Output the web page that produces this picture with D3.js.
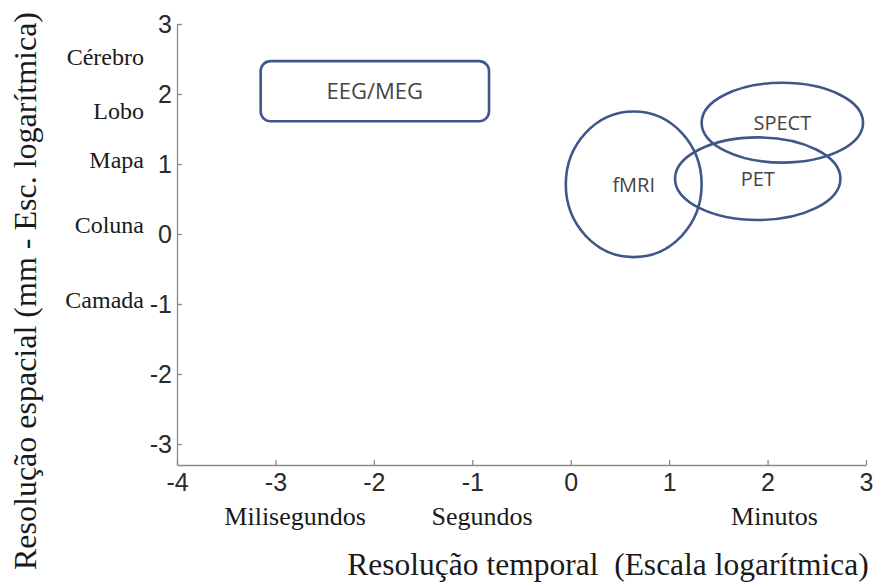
<!DOCTYPE html>
<html>
<head>
<meta charset="utf-8">
<script src="https://cdn.jsdelivr.net/npm/d3@7/dist/d3.min.js"></script>
<style>
  html, body { margin: 0; padding: 0; background: #fff; }
</style>
</head>
<body>
<div id="chart"></div>
<script>
const width = 879;
const height = 582;

// axis ticks (log10 units)
const xTicks = [-4, -3, -2, -1, 0, 1, 2, 3];
const yTicks = [-3, -2, -1, 0, 1, 2, 3];

// verbal scale labels
const timeLabels = ["Milisegundos", "Segundos", "Minutos"];
const timePos = [-2.8, -0.9, 2.07];
const spaceLabels = ["Cérebro", "Lobo", "Mapa", "Coluna", "Camada"];
const spacePos = [2.54, 1.77, 1.06, 0.13, -0.94];

// EEG/MEG box: temporal range and spatial range
const boxName = "EEG/MEG";
const boxX = [-3.15, -0.83];
const boxY = [1.61, 2.47];

// ellipse techniques
const ellipseNames = ["fMRI", "SPECT", "PET"];
const ellipseCx = [0.64, 2.15, 1.90];
const ellipseCy = [0.71, 1.59, 0.79];
const ellipseRx = [0.69, 0.82, 0.84];
const ellipseRy = [1.04, 0.57, 0.59];

const shapeColor = "#3f5889";

const svg = d3.select("#chart").append("svg")
  .attr("width", width)
  .attr("height", height)
  .style("display", "block");

svg.append("rect").attr("width", width).attr("height", height).attr("fill", "#fff");

const x = d3.scaleLinear().domain([-4, 3]).range([177, 866]);
const y = d3.scaleLinear().domain([-3.3, 3]).range([465, 24]);

function styleAxis(g) {
  g.selectAll("path, line").attr("stroke", "#8a8a8a").attr("stroke-width", 1.3);
  g.selectAll("text")
    .attr("fill", "#2a2a2a")
    .style("font-family", "'Liberation Sans', Arial, sans-serif")
    .style("font-size", "25px")
    .text(function () { return d3.select(this).text().replace("−", "-"); });
}

// axes
svg.append("g")
  .attr("transform", `translate(0,${y(-3.3)})`)
  .call(d3.axisBottom(x).tickValues(xTicks).tickSize(-5).tickSizeOuter(0).tickPadding(8).tickFormat(d3.format("d")))
  .call(styleAxis);

svg.append("g")
  .attr("transform", `translate(${x(-4)},0)`)
  .call(d3.axisLeft(y).tickValues(yTicks).tickSize(-5).tickSizeOuter(0).tickPadding(5).tickFormat(d3.format("d")))
  .call(styleAxis);

// verbal labels
svg.append("g").selectAll("text")
  .data(spaceLabels)
  .join("text")
  .attr("x", 144)
  .attr("y", (d, i) => y(spacePos[i]))
  .attr("dy", "0.35em")
  .attr("text-anchor", "end")
  .style("font-family", "'Liberation Serif', 'Times New Roman', serif")
  .style("font-size", "24px")
  .style("fill", "#1a1a1a")
  .text(d => d);

svg.append("g").selectAll("text")
  .data(timeLabels)
  .join("text")
  .attr("x", (d, i) => x(timePos[i]))
  .attr("y", 525)
  .attr("text-anchor", "middle")
  .style("font-family", "'Liberation Serif', 'Times New Roman', serif")
  .style("font-size", "26px")
  .style("fill", "#1a1a1a")
  .text(d => d);

// axis titles
svg.append("text")
  .attr("x", 608)
  .attr("y", 575)
  .attr("text-anchor", "middle")
  .style("font-family", "'Liberation Serif', 'Times New Roman', serif")
  .style("font-size", "31.5px")
  .style("fill", "#1a1a1a")
  .text("Resolução temporal\u00a0 (Escala logarítmica)");

svg.append("text")
  .attr("transform", "translate(36,291) rotate(-90)")
  .attr("text-anchor", "middle")
  .style("font-family", "'Liberation Serif', 'Times New Roman', serif")
  .style("font-size", "32px")
  .style("fill", "#1a1a1a")
  .text("Resolução espacial (mm - Esc. logarítmica)");

// EEG/MEG rounded box
svg.append("rect")
  .attr("x", x(boxX[0]))
  .attr("y", y(boxY[1]))
  .attr("width", x(boxX[1]) - x(boxX[0]))
  .attr("height", y(boxY[0]) - y(boxY[1]))
  .attr("rx", 10)
  .attr("fill", "none")
  .attr("stroke", shapeColor)
  .attr("stroke-width", 2.6);

svg.append("text")
  .attr("x", x((boxX[0] + boxX[1]) / 2))
  .attr("y", y((boxY[0] + boxY[1]) / 2))
  .attr("dy", "0.36em")
  .attr("text-anchor", "middle")
  .style("font-family", "'Open Sans', sans-serif")
  .style("font-size", "22px")
  .style("fill", "#444")
  .text(boxName);

// ellipses
const ell = svg.append("g").selectAll("g")
  .data(ellipseNames)
  .join("g");

ell.append("ellipse")
  .attr("cx", (d, i) => x(ellipseCx[i]))
  .attr("cy", (d, i) => y(ellipseCy[i]))
  .attr("rx", (d, i) => x(ellipseRx[i]) - x(0))
  .attr("ry", (d, i) => y(0) - y(ellipseRy[i]))
  .attr("fill", "none")
  .attr("stroke", shapeColor)
  .attr("stroke-width", 2.6);

ell.append("text")
  .attr("x", (d, i) => x(ellipseCx[i]))
  .attr("y", (d, i) => y(ellipseCy[i]))
  .attr("dy", "0.36em")
  .attr("text-anchor", "middle")
  .style("font-family", "'Open Sans', sans-serif")
  .style("font-size", "20px")
  .style("fill", "#444")
  .text(d => d);
</script>
</body>
</html>
